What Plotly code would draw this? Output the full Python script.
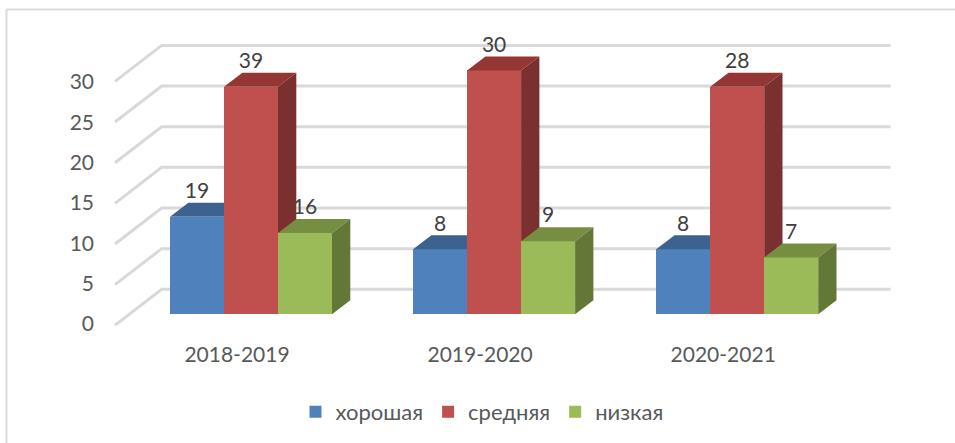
import plotly.graph_objects as go

years = ["2018-2019", "2019-2020", "2020-2021"]
series = ["хорошая", "средняя", "низкая"]
heights_good = [12, 8, 8]
heights_mid = [28, 30, 28]
heights_low = [10, 9, 7]
labels_good = [19, 8, 8]
labels_mid = [39, 30, 28]
labels_low = [16, 9, 7]
yticks = [0, 5, 10, 15, 20, 25, 30]

front_cols = ["#4F81BD", "#C0504D", "#9BBB59"]
top_cols = ["#3C6290", "#943634", "#768E42"]
side_cols = ["#335079", "#7A302E", "#637837"]
FONT = "Lato, 'Noto Sans', sans-serif"
TXT = "#595959"

W, H = 955, 443
ML, MB = 95, 103
XU, YU = 243.1, 8.13           # px per group / per value unit
X0, Y0 = 251.0, 314.3          # pixel of group 0 / of value 0 on the front plane
PB = H - MB
xr = [(ML - X0) / XU, (W - X0) / XU]
yr = [(Y0 - PB) / YU, Y0 / YU]
PW = W - ML

bw = 54.0 / XU                 # bar width
bdx, bdy = 18.3 / XU, 14.0 / YU   # bar depth projection
wall_dx, wall_dy = 46.7 / XU, 36.0 / YU
wall_left = (115 - X0) / XU
wall_right = (890.5 - X0) / XU
back_lift = (Y0 - 289.3) / YU

fig = go.Figure()

# back wall / side wall gridlines, on the lowest axes
gx, gy = [], []
for v in yticks:
    gx += [wall_left, wall_left + wall_dx, wall_right, None]
    gy += [v + back_lift - wall_dy, v + back_lift, v + back_lift, None]
fig.add_trace(go.Scatter(x=gx, y=gy, mode="lines", showlegend=False, hoverinfo="skip",
                         line=dict(color="#D9D9D9", width=3)))

all_heights = [heights_good, heights_mid, heights_low]
axes = [("x2", "y2"), ("x3", "y3"), ("x4", "y4")]
for s, name in enumerate(series):
    xa, ya = axes[s]
    vals = all_heights[s]
    off = (s - 1.5) * bw
    fig.add_trace(go.Bar(x=list(range(3)), y=vals, name=name, xaxis=xa, yaxis=ya,
                         width=bw, offset=off, marker=dict(color=front_cols[s], line_width=0)))
    for g, v in enumerate(vals):
        l = g + off
        r = l + bw
        fig.add_trace(go.Scatter(
            x=[l, r, r + bdx, l + bdx, l], y=[v, v, v + bdy, v + bdy, v],
            mode="lines", fill="toself", fillcolor=top_cols[s], line=dict(width=0),
            showlegend=False, hoverinfo="skip", xaxis=xa, yaxis=ya))
        fig.add_trace(go.Scatter(
            x=[r, r + bdx, r + bdx, r, r], y=[0, bdy, v + bdy, v, 0],
            mode="lines", fill="toself", fillcolor=side_cols[s], line=dict(width=0),
            showlegend=False, hoverinfo="skip", xaxis=xa, yaxis=ya))

# data labels
all_labels = [labels_good, labels_mid, labels_low]
lx, ly, lt = [], [], []
for s in range(3):
    for g in range(3):
        lx.append(g + (s - 1) * bw)
        ly.append(all_heights[s][g] + 2.95)
        lt.append(str(all_labels[s][g]))
fig.add_trace(go.Scatter(x=lx, y=ly, text=lt, mode="text", textposition="middle center",
                         textfont=dict(family=FONT, size=21, color="#404040"),
                         showlegend=False, hoverinfo="skip", xaxis="x4", yaxis="y4"))

fig.update_layout(
    width=W, height=H, autosize=False,
    paper_bgcolor="white", plot_bgcolor="rgba(0,0,0,0)",
    margin=dict(l=ML, r=0, t=0, b=MB, pad=0),
    font=dict(family=FONT, color=TXT, size=21),
    barmode="overlay", bargap=0,
    showlegend=True,
    legend=dict(orientation="h", x=(491 - 9 - ML) / PW, xanchor="center",
                y=(PB - 412) / PB, yanchor="middle", font=dict(size=22, color=TXT),
                bgcolor="rgba(0,0,0,0)", traceorder="normal"),
    xaxis=dict(range=xr, tickvals=[g - 14 / XU for g in range(3)], ticktext=years,
               showgrid=False, zeroline=False, showline=False, ticks="",
               tickfont=dict(family=FONT, size=21, color=TXT)),
    yaxis=dict(range=yr, tickvals=[(Y0 - 324 + 8.07 * v) / YU for v in yticks],
               ticktext=[str(v) for v in yticks],
               showgrid=False, zeroline=False, showline=False, ticks="",
               tickfont=dict(family=FONT, size=21, color=TXT)),
    shapes=[
        dict(type="line", xref="paper", yref="paper", x0=(6.5 - ML) / PW, x1=1,
             y0=(PB - 9.5) / PB, y1=(PB - 9.5) / PB, line=dict(color="#D9D9D9", width=2)),
        dict(type="line", xref="paper", yref="paper", x0=(6.5 - ML) / PW, x1=(6.5 - ML) / PW,
             y0=(PB - H) / PB, y1=(PB - 9.5) / PB, line=dict(color="#D9D9D9", width=2)),
    ],
)
for n in (2, 3, 4):
    fig.update_layout({
        f"xaxis{n}": dict(range=xr, overlaying="x", visible=False),
        f"yaxis{n}": dict(range=yr, overlaying="y", visible=False),
    })

fig.write_html("out.html", config={"displayModeBar": False},
               post_script="document.body.style.margin='0';document.body.style.overflow='hidden';")
